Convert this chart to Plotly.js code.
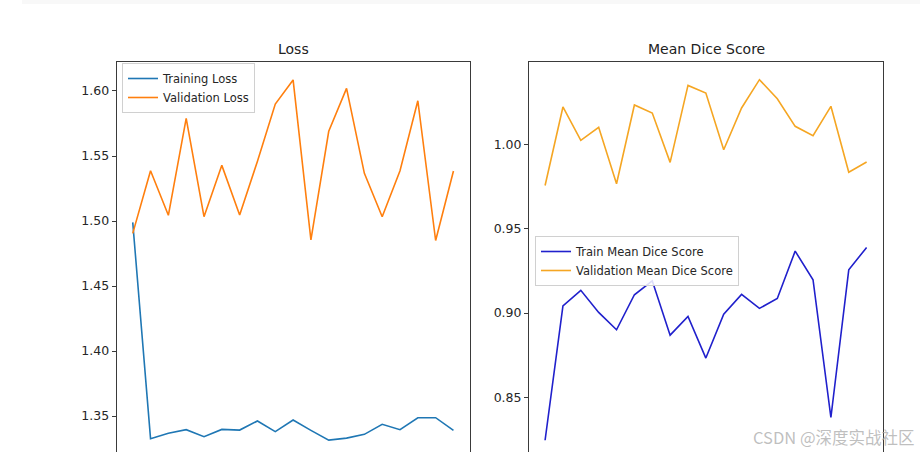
<!DOCTYPE html>
<html>
<head>
<meta charset="utf-8">
<script src="https://cdn.plot.ly/plotly-3.0.1.min.js"></script>
<style>
html,body{margin:0;padding:0;background:#fff;overflow:hidden;width:920px;height:452px;}
#chart{width:920px;height:500px;}
</style>
</head>
<body>
<div id="chart"></div>
<script>
// Data
const epochs = [0,1,2,3,4,5,6,7,8,9,10,11,12,13,14,15,16,17,18];
const trainingLoss = [1.499,1.3326,1.3367,1.3395,1.3341,1.3397,1.3392,1.3462,1.338,1.3469,1.339,1.3315,1.333,1.3359,1.3436,1.3395,1.3487,1.3487,1.339];
const validationLoss = [1.4905,1.5387,1.5044,1.579,1.5033,1.5428,1.5046,1.546,1.59,1.6085,1.4854,1.569,1.602,1.5367,1.5033,1.5387,1.5925,1.485,1.5385];
const trainDice = [0.8245,0.9043,0.9135,0.9004,0.8901,0.9109,0.9192,0.8869,0.898,0.8733,0.8994,0.9111,0.9028,0.9087,0.9368,0.9198,0.838,0.9257,0.939];
const validationDice = [0.9758,1.0224,1.0026,1.0103,0.9768,1.0236,1.0188,0.9895,1.0352,1.0307,0.997,1.0218,1.0386,1.0273,1.0109,1.0053,1.0228,0.9836,0.9897];
const titles = ["Loss", "Mean Dice Score"];
const watermark = "CSDN @深度实战社区";

const lw = 1.6;
const traces = [
  {x: epochs, y: trainingLoss, name: "Training Loss", type: "scatter", mode: "lines",
   line: {color: "#1f77b4", width: lw}, xaxis: "x", yaxis: "y", legend: "legend"},
  {x: epochs, y: validationLoss, name: "Validation Loss", type: "scatter", mode: "lines",
   line: {color: "#ff7f0e", width: lw}, xaxis: "x", yaxis: "y", legend: "legend"},
  {x: epochs, y: trainDice, name: "Train Mean Dice Score", type: "scatter", mode: "lines",
   line: {color: "#2020cc", width: lw}, xaxis: "x2", yaxis: "y2", legend: "legend2"},
  {x: epochs, y: validationDice, name: "Validation Mean Dice Score", type: "scatter", mode: "lines",
   line: {color: "#f5a623", width: lw}, xaxis: "x2", yaxis: "y2", legend: "legend2"}
];

const tickFont = {family: "DejaVu Sans", size: 12.5, color: "#262626"};
const axisCommon = {
  showgrid: false, zeroline: false, showline: true, mirror: true,
  linecolor: "#3a3a3a", linewidth: 1, ticks: "outside", ticklen: 4,
  tickcolor: "#3a3a3a", tickfont: tickFont
};

const H = 500, T = 62, B = 20;
const plotH = H - T - B;
const py = (pix) => (H - B - pix) / plotH;

const legendCommon = {
  bgcolor: "rgba(255,255,255,0.85)", bordercolor: "#d0d0d0", borderwidth: 1,
  font: {family: "DejaVu Sans", size: 11.5, color: "#262626"},
  xref: "paper", yref: "paper", xanchor: "left", yanchor: "top"
};

const layout = {
  width: 920, height: H,
  margin: {l: 0, r: 0, t: T, b: B},
  paper_bgcolor: "#fff", plot_bgcolor: "#fff",
  showlegend: true,
  xaxis: Object.assign({}, axisCommon, {domain: [116.7/920, 469.5/920], range: [-0.9, 18.9], anchor: "y", showticklabels: false}),
  yaxis: Object.assign({}, axisCommon, {range: [1.3008, 1.6223], dtick: 0.05, tickformat: ".2f", anchor: "x"}),
  xaxis2: Object.assign({}, axisCommon, {domain: [529/920, 882.7/920], range: [-0.9, 18.9], anchor: "y2", showticklabels: false}),
  yaxis2: Object.assign({}, axisCommon, {range: [0.8009, 1.0491], dtick: 0.05, tickformat: ".2f", anchor: "x2"}),
  legend: Object.assign({}, legendCommon, {x: 122/920, y: py(63)}),
  legend2: Object.assign({}, legendCommon, {x: 535/920, y: py(236)}),
  annotations: [
    {text: titles[0], xref: "paper", yref: "paper", x: 293/920, y: py(49), showarrow: false,
     xanchor: "center", yanchor: "middle", font: {family: "DejaVu Sans", size: 14, color: "#222"}},
    {text: titles[1], xref: "paper", yref: "paper", x: 706/920, y: py(49), showarrow: false,
     xanchor: "center", yanchor: "middle", font: {family: "DejaVu Sans", size: 14, color: "#222"}},
    {text: watermark, xref: "paper", yref: "paper", x: 917/920, y: py(437), showarrow: false,
     xanchor: "right", yanchor: "middle", font: {family: "Noto Sans CJK SC", size: 16.5, color: "rgba(170,170,170,0.75)"}}
  ],
  shapes: [
    {type: "rect", xref: "paper", yref: "paper", x0: 22/920, x1: 1, y0: py(4), y1: py(0),
     fillcolor: "#f8f8f8", line: {width: 0}, layer: "below"}
  ]
};

Plotly.newPlot("chart", traces, layout, {displayModeBar: false, staticPlot: true});
</script>
</body>
</html>
